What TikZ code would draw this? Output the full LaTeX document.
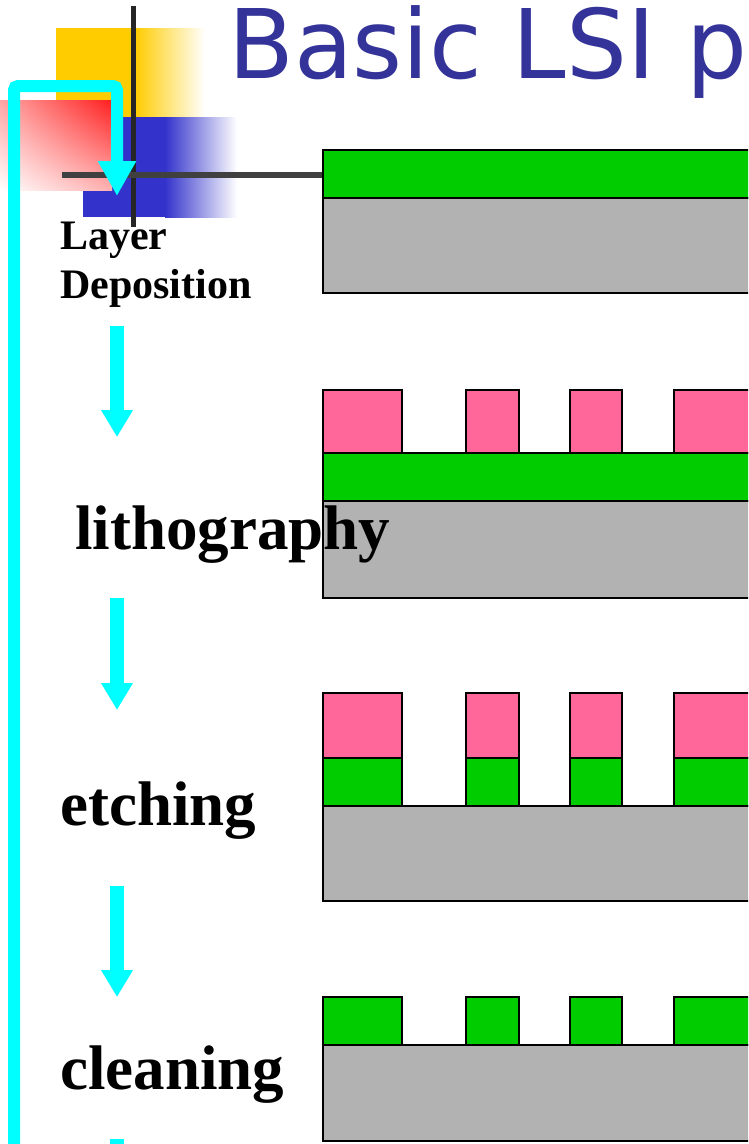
\documentclass[tikz,border=0pt]{standalone}
\usepackage{fontspec}
\setmainfont{Liberation Serif}
\newfontfamily\titlefont{DejaVu Sans}
\usepackage{xcolor}
\usepackage{tikz}
\usetikzlibrary{arrows.meta,shadings}

\definecolor{titleblue}{HTML}{333399}
\definecolor{decoyellow}{HTML}{FFCC00}
\definecolor{decoblue}{HTML}{3333CC}
\definecolor{decored}{HTML}{FF1F1F}
\definecolor{resistpink}{HTML}{FF6699}
\definecolor{filmgreen}{HTML}{00CC00}
\definecolor{wafergray}{HTML}{B2B2B2}
\definecolor{loopcyan}{HTML}{00FFFF}

\tikzset{
  resist/.style={fill=resistpink, draw=black, line width=2pt},
  film/.style={fill=filmgreen, draw=black, line width=2pt},
  wafer/.style={fill=wafergray, draw=black, line width=2pt},
  stepname/.style={anchor=base west, inner sep=0pt, font=\bfseries\fontsize{63}{70}\selectfont},
  flow/.style={loopcyan, line width=14pt, -{Triangle[width=30pt,length=27pt]}}
}

\begin{document}
\begin{tikzpicture}[x=1pt,y=-1pt]

\useasboundingbox (0,0) rectangle (748,1144);
\clip (0,0) rectangle (748,1144);

% corner decoration
\fill[decoyellow](56,28) rectangle (135,117);
\shade[left color=decoyellow, right color=white](135,28) rectangle (205,117);
\fill[decoblue](83,117) rectangle (165,217);
\shade[left color=decoblue, right color=white](165,117) rectangle (237,217);
\shade[upper right=decored, upper left=decored!40, lower right=decored!35, lower left=white](0,100) rectangle (112,190);
\draw[black!85, line width=5pt](133,6)--(133,227);
\draw[black!75, line width=6pt](62,175)--(323,175);

\node[anchor=base west, inner sep=0pt, text=titleblue, font=\titlefont\fontsize{96}{110}\selectfont] (title) at (228,78) {Basic LSI p};

% layer deposition
\filldraw[film](323,150) rectangle (760,198);
\filldraw[wafer](323,198) rectangle (760,293);

% lithography
\filldraw[resist](323,390) rectangle (402,453);
\filldraw[resist](466,390) rectangle (519,453);
\filldraw[resist](570,390) rectangle (622,453);
\filldraw[resist](674,390) rectangle (760,453);
\filldraw[film](323,453) rectangle (760,501);
\filldraw[wafer](323,501) rectangle (760,598);

% etching
\filldraw[resist](323,693) rectangle (402,758);
\filldraw[resist](466,693) rectangle (519,758);
\filldraw[resist](570,693) rectangle (622,758);
\filldraw[resist](674,693) rectangle (760,758);
\filldraw[film](323,758) rectangle (402,806);
\filldraw[film](466,758) rectangle (519,806);
\filldraw[film](570,758) rectangle (622,806);
\filldraw[film](674,758) rectangle (760,806);
\filldraw[wafer](323,806) rectangle (760,901);

% cleaning
\filldraw[film](323,997) rectangle (402,1045);
\filldraw[film](466,997) rectangle (519,1045);
\filldraw[film](570,997) rectangle (622,1045);
\filldraw[film](674,997) rectangle (760,1045);
\filldraw[wafer](323,1045) rectangle (760,1141);

% step names
\node[anchor=base west, inner sep=0pt, align=left, font=\bfseries\fontsize{42}{49}\selectfont] (depo) at (60,298) {Layer\\Deposition};
\node[stepname] (litho) at (75,549) {lithography};
\node[stepname] (etch) at (60,825) {etching};
\node[stepname] (clean) at (60,1089) {cleaning};

% flow
\coordinate (loopstart) at (14,1160);
\coordinate (loopturn) at (117,86);
\coordinate (loopend) at (117,196);
\draw[loopcyan, line width=12pt, rounded corners=4pt, -{Triangle[width=36pt,length=35pt]}](loopstart) |- (loopturn) -- (loopend);

\coordinate (arrA) at (117,326);
\coordinate (arrA') at (117,437);
\coordinate (arrB) at (117,598);
\coordinate (arrB') at (117,710);
\coordinate (arrC) at (117,886);
\coordinate (arrC') at (117,997);
\coordinate (arrD) at (117,1139);
\coordinate (arrD') at (117,1250);
\draw[flow](arrA)--(arrA');
\draw[flow](arrB)--(arrB');
\draw[flow](arrC)--(arrC');
\draw[flow](arrD)--(arrD');

\end{tikzpicture}
\end{document}
